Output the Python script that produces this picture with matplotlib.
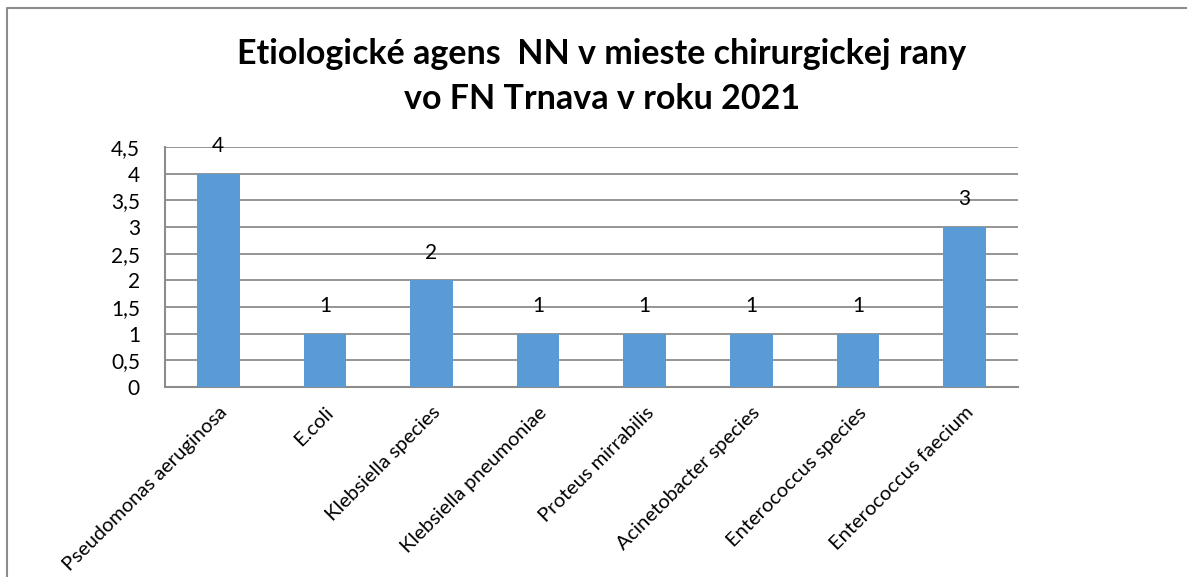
import matplotlib
matplotlib.use('Agg')
import matplotlib.pyplot as plt
from matplotlib.lines import Line2D

# data
categories = ['Pseudomonas aeruginosa', 'E.coli', 'Klebsiella species',
              'Klebsiella pneumoniae', 'Proteus mirrabilis', 'Acinetobacter species',
              'Enterococcus species', 'Enterococcus faecium']
counts = [4, 1, 2, 1, 1, 1, 1, 3]
yticks = [0, 0.5, 1, 1.5, 2, 2.5, 3, 3.5, 4, 4.5]
ytick_labels = ['0', '0,5', '1', '1,5', '2', '2,5', '3', '3,5', '4', '4,5']
title = 'Etiologické agens  NN v mieste chirurgickej rany\nvo FN Trnava v roku 2021'

plt.rcParams['font.family'] = ['Lato', 'DejaVu Sans']

fig = plt.figure(figsize=(11.87, 5.77), dpi=100)
ax = fig.add_axes([0.139, 0.3293, 0.7186, 0.4159])

x = range(len(categories))
bars = ax.bar(x, counts, width=0.4, color='#5B9BD5', zorder=3)
for xi, v in zip(x, counts):
    ax.annotate(str(v), (xi, v), xytext=(0, 20), textcoords='offset points',
                ha='center', va='center', fontsize=15, zorder=4)

ax.set_xlim(-0.5, len(categories) - 0.5)
ax.set_ylim(0, 4.5)
ax.set_yticks(yticks)
ax.set_yticklabels(ytick_labels, fontsize=15)
ax.set_xticks(list(x))
ax.set_xticklabels(categories, rotation=45, ha='right', rotation_mode='anchor', fontsize=14.5)
ax.tick_params(axis='y', length=0, pad=18)
ax.tick_params(axis='x', length=0, pad=12)
ax.grid(axis='y', color='#8c8c8c', lw=1.3, zorder=0)
for s in ['top', 'right']:
    ax.spines[s].set_visible(False)
for s in ['left', 'bottom']:
    ax.spines[s].set_color('#8c8c8c')
    ax.spines[s].set_linewidth(1.5)

fig.text(0.507, 0.867, title, ha='center', va='center', fontsize=24.5,
         fontweight='bold', linespacing=1.5)

# chart frame
fig.add_artist(Line2D([7 / 1187, 7 / 1187, 1], [0, 1 - 8 / 577, 1 - 8 / 577],
                      transform=fig.transFigure, color='#8c8c8c', lw=1.5))

fig.savefig('out.png', dpi=100)
